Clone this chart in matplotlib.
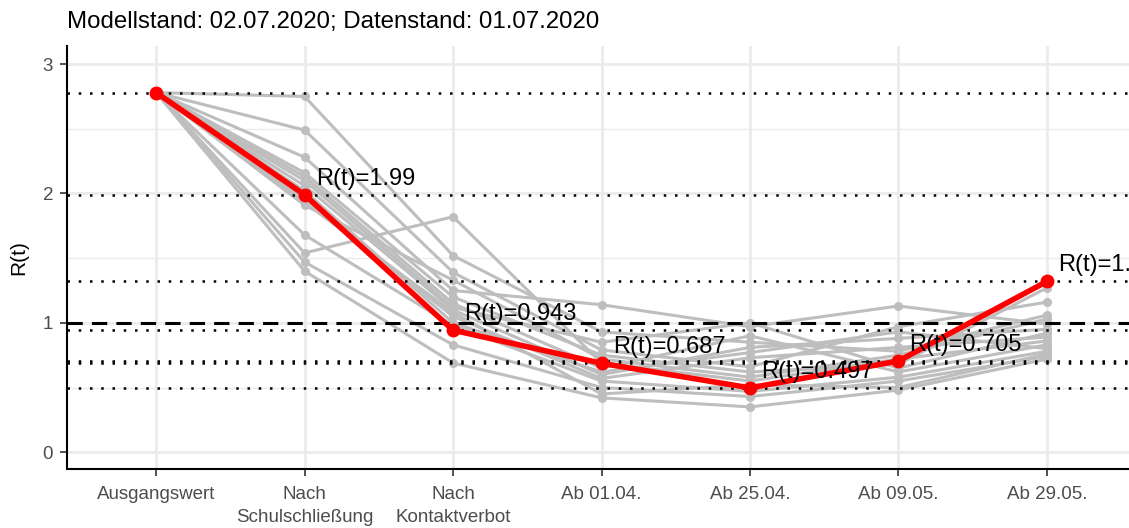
import matplotlib.pyplot as plt
import numpy as np

plt.rcParams['font.family'] = ['Liberation Sans', 'DejaVu Sans']

# Zeitraeume (x-Achse)
phasen = ['Ausgangswert', 'Nach\nSchulschließung', 'Nach\nKontaktverbot',
          'Ab 01.04.', 'Ab 25.04.', 'Ab 09.05.', 'Ab 29.05.']

# Hauptschaetzung R(t)
r_haupt = [2.78, 1.99, 0.943, 0.687, 0.497, 0.705, 1.32]

# Sensitivitaetslaeufe (grau)
r_s01 = [2.78, 2.75, 1.52, 0.93, 0.85, 0.78, 1.06]
r_s02 = [2.78, 2.49, 1.39, 0.79, 0.66, 0.97, 1.16]
r_s03 = [2.78, 2.28, 1.25, 1.14, 0.97, 1.13, 0.99]
r_s04 = [2.78, 2.16, 1.20, 0.75, 0.62, 0.68, 1.27]
r_s05 = [2.78, 2.13, 1.15, 0.65, 0.90, 0.62, 0.83]
r_s06 = [2.78, 2.06, 1.10, 0.60, 0.81, 0.88, 0.95]
r_s07 = [2.78, 1.96, 1.05, 0.57, 0.73, 0.81, 0.89]
r_s08 = [2.78, 1.91, 1.33, 0.72, 0.58, 0.75, 1.03]
r_s09 = [2.78, 1.68, 0.98, 0.55, 0.47, 0.58, 0.78]
r_s10 = [2.78, 1.54, 1.82, 0.69, 0.55, 0.72, 0.86]
r_s11 = [2.78, 1.47, 0.83, 0.50, 0.43, 0.55, 0.74]
r_s12 = [2.78, 1.40, 0.69, 0.42, 0.35, 0.48, 0.72]
r_s13 = [2.78, 2.02, 1.00, 0.62, 0.77, 0.93, 0.80]
r_s14 = [2.78, 1.93, 1.08, 0.45, 0.52, 0.50, 0.76]
r_s15 = [2.78, 2.10, 1.12, 0.85, 1.00, 0.65, 0.92]
r_sens = [r_s01, r_s02, r_s03, r_s04, r_s05, r_s06, r_s07, r_s08,
          r_s09, r_s10, r_s11, r_s12, r_s13, r_s14, r_s15]

x = np.arange(len(phasen))

fig = plt.figure(figsize=(11.29, 5.28), dpi=100)
# Panel laeuft rechts ueber den Bildrand hinaus
ax = fig.add_axes([67 / 1129, 59 / 528, 1069 / 1129, 423 / 528])

# Gitter wie bei ggplot (Haupt- und Nebenlinien)
ax.set_yticks([0, 1, 2, 3])
ax.set_yticks([0.5, 1.5, 2.5], minor=True)
ax.grid(True, which='major', color='#EBEBEB', linewidth=2.0, zorder=0)
ax.grid(True, which='minor', axis='y', color='#EBEBEB', linewidth=1.0,
        zorder=0)
ax.tick_params(which='minor', length=0)

for serie in r_sens:
    ax.plot(x, serie, color='#BEBEBE', linewidth=2.2, marker='o',
            markersize=5.5, zorder=2)

# Referenzlinien bei den Werten der Hauptschaetzung
for wert in r_haupt:
    ax.axhline(wert, color='black', linewidth=1.8, linestyle=(0, (1, 3.5)),
               zorder=3)
ax.axhline(1.0, color='black', linewidth=2.2, linestyle=(0, (5, 3)),
           zorder=3)

ax.plot(x, r_haupt, color='#FF0000', linewidth=4.0, marker='o',
        markersize=9, zorder=4)

for xi, wert in zip(x, r_haupt[1:]):
    ax.text(xi + 1 + 0.075, wert + 0.04, 'R(t)=%s' % wert, fontsize=17,
            ha='left', va='bottom', color='black', zorder=5)

ax.set_xlim(-0.6, 6.6)
ax.set_ylim(-0.13, 3.14)
ax.set_xticks(x)
ax.set_xticklabels(phasen, fontsize=13.5, color='#4D4D4D', linespacing=1.45)
ax.tick_params(axis='y', labelsize=13.5, labelcolor='#4D4D4D', pad=5)
ax.tick_params(axis='x', pad=7)
ax.tick_params(which='major', length=5, width=1.2, color='#333333')

for side in ['top', 'right']:
    ax.spines[side].set_visible(False)
for side in ['left', 'bottom']:
    ax.spines[side].set_linewidth(1.5)
    ax.spines[side].set_color('black')

ax.set_ylabel('R(t)', fontsize=15, labelpad=10)
ax.set_title('Modellstand: 02.07.2020; Datenstand: 01.07.2020', loc='left',
             fontsize=17.3, pad=13)

fig.savefig('out.png', dpi=100)
